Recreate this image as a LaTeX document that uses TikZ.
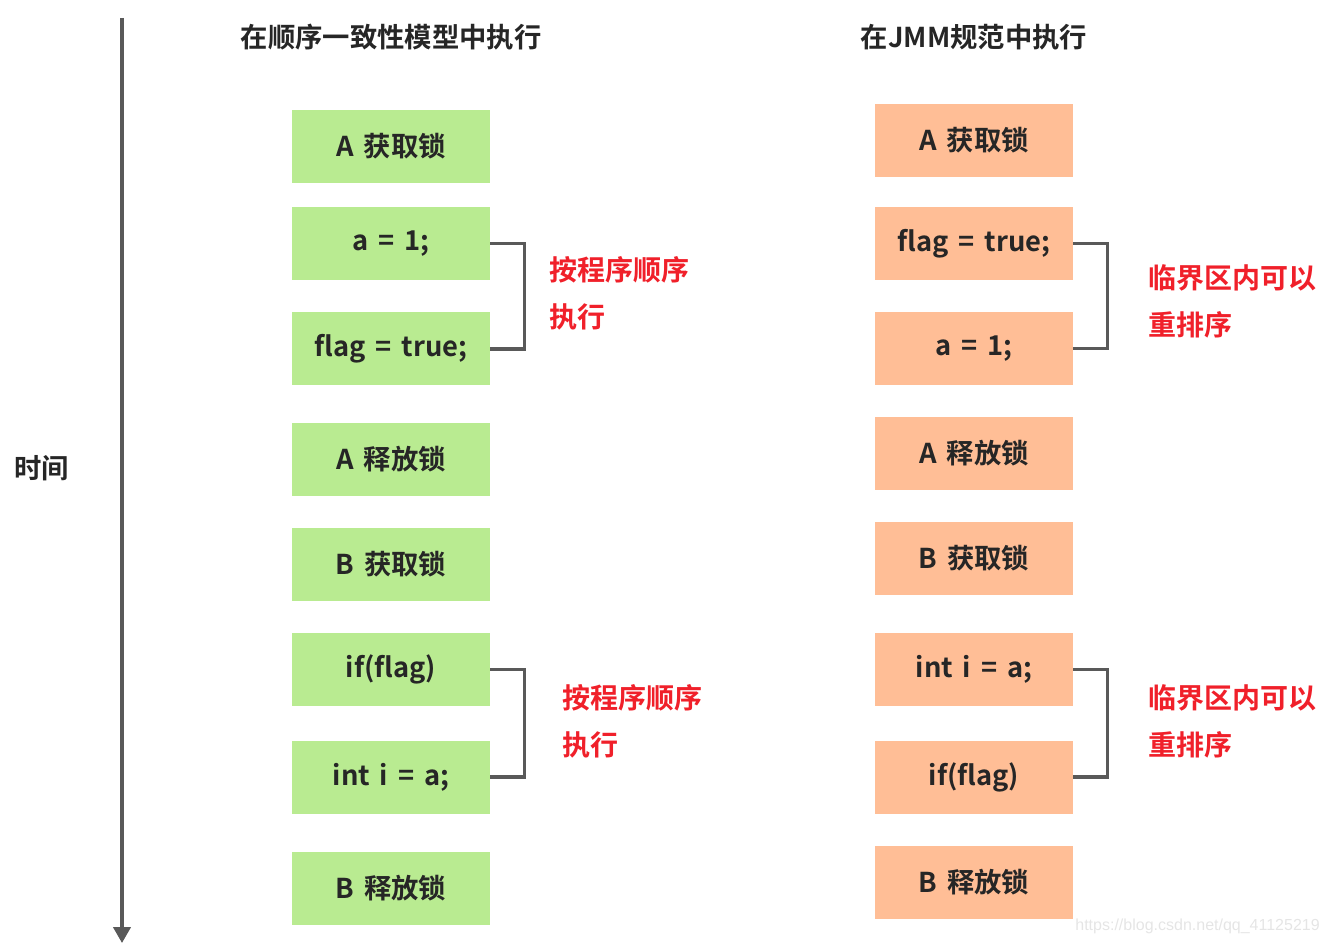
\documentclass[tikz,border=0pt]{standalone}
\usepackage{fontspec}
\setmainfont[WordSpace=1.6]{Noto Sans CJK SC Bold}
\newfontfamily\wm{Liberation Sans}
\usetikzlibrary{arrows.meta}
\definecolor{gbox}{HTML}{B9EB91}
\definecolor{obox}{HTML}{FFBE96}
\definecolor{txt}{HTML}{262626}
\definecolor{lin}{HTML}{595959}
\definecolor{red}{HTML}{F0202A}
\tikzset{
  gstep/.style={fill=gbox, draw=none, minimum width=198*0.75pt, minimum height=73*0.75pt, inner sep=0pt, text=txt, font=\fontsize{20.5}{24}\selectfont},
  ostep/.style={gstep, fill=obox},
  brk/.style={draw=lin, line width=2.4pt},
  note/.style={anchor=west, text=red, font=\fontsize{21}{25}\selectfont, inner sep=0pt},
  ttl/.style={text=txt, font=\fontsize{20.5}{24}\selectfont, inner sep=0pt},
}
\newcommand{\lw}[1]{\raisebox{-1.5pt}{#1}}
\begin{document}
\begin{tikzpicture}[x=0.75pt,y=-0.75pt]
\useasboundingbox (0,0) rectangle (1328,944);
% time axis
\coordinate (t0) at (122,18);
\coordinate (t1) at (122,943);
\draw[draw=lin, line width=2.4pt, -{Triangle[length=12pt,width=13pt]}] (t0) -- (t1);
\node[ttl, anchor=west] (time) at (14,468) {时间};
% titles
\node[ttl] (tl) at (391,37) {在顺序一致性模型中执行};
\node[ttl] (tr) at (974,37) {在JMM规范中执行};
% left column
\node[gstep] (g1) at (391,146.5) {\lw{A 获取锁}};
\node[gstep] (g2) at (391,243.5) {\lw{a = 1;}};
\node[gstep] (g3) at (391,349) {\lw{flag = true;}};
\node[gstep] (g4) at (391,459.5) {\lw{A 释放锁}};
\node[gstep] (g5) at (391,564.5) {\lw{B 获取锁}};
\node[gstep] (g6) at (391,669.5) {\lw{if(flag)}};
\node[gstep] (g7) at (391,777) {\lw{int i = a;}};
\node[gstep] (g8) at (391,888) {\lw{B 释放锁}};
% right column
\node[ostep] (o1) at (974,140.5) {\lw{A 获取锁}};
\node[ostep] (o2) at (974,243.5) {\lw{flag = true;}};
\node[ostep] (o3) at (974,348.5) {\lw{a = 1;}};
\node[ostep] (o4) at (974,453.5) {\lw{A 释放锁}};
\node[ostep] (o5) at (974,558.5) {\lw{B 获取锁}};
\node[ostep] (o6) at (974,669.5) {\lw{int i = a;}};
\node[ostep] (o7) at (974,777) {\lw{if(flag)}};
\node[ostep] (o8) at (974,882) {\lw{B 释放锁}};
% brackets
\draw[brk] (g2.east) -- ++(34,0) |- (g3.east);
\draw[brk] (g6.east) -- ++(34,0) |- (g7.east);
\draw[brk] (o2.east) -- ++(34,0) |- (o3.east);
\draw[brk] (o6.east) -- ++(34,0) |- (o7.east);
% notes
\node[note] (n1a) at (549,270) {按程序顺序};
\node[note] (n1b) at (549,317) {执行};
\node[note] (n2a) at (562,698) {按程序顺序};
\node[note] (n2b) at (562,745) {执行};
\node[note] (n3a) at (1148,278) {临界区内可以};
\node[note] (n3b) at (1148,325) {重排序};
\node[note] (n4a) at (1148,698) {临界区内可以};
\node[note] (n4b) at (1148,745) {重排序};
% watermark
\node[anchor=east, inner sep=0pt, text=black!10, font=\wm\fontsize{12}{14}\selectfont] (wmk) at (1320,926) {https://blog.csdn.net/qq\_41125219};
\end{tikzpicture}
\end{document}
